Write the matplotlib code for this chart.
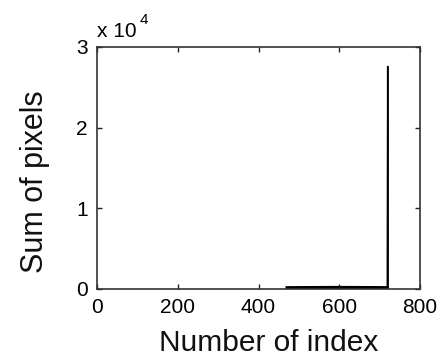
import matplotlib
matplotlib.use("Agg")
import matplotlib.pyplot as plt

# index positions and summed pixel counts
index = [0, 470, 471, 500, 550, 600, 650, 700, 719, 720, 721, 722]
pixel_sum = [0, 0, 150, 160, 170, 180, 170, 160, 150, 27600, 0, 0]

x_ticks = [0, 200, 400, 600, 800]
y_ticks = [0, 10000, 20000, 30000]
y_tick_labels = ["0", "1", "2", "3"]

plt.rcParams['font.family'] = ['Liberation Sans', 'DejaVu Sans']

W, H = 444, 358
fig = plt.figure(figsize=(W / 100, H / 100), dpi=100)
ax = fig.add_axes([97 / W, 1 - 289 / H, 323 / W, 242 / H])

ax.plot(index[1:-1], pixel_sum[1:-1], color='black', lw=1.1)
ax.plot(index[2:9], pixel_sum[2:9], color='black', lw=2.4)

ax.set_xlim(0, 800)
ax.set_ylim(0, 30000)
ax.set_xticks(x_ticks)
ax.set_xticklabels([str(t) for t in x_ticks])
ax.set_yticks(y_ticks)
ax.set_yticklabels(y_tick_labels)
ax.tick_params(direction='in', top=True, right=True, length=3.5, width=1,
               labelsize=15, pad=6.5, colors='#222222', labelcolor='black')
for s in ax.spines.values():
    s.set_linewidth(1.2)
    s.set_color('#333333')

fig.text(269 / W, (H - 351) / H, "Number of index", fontsize=21.5,
         ha='center', va='baseline', color='#111111')
fig.text(43 / W, 1 - 181.5 / H, "Sum of pixels", fontsize=22, rotation=90,
         rotation_mode='anchor', ha='center', va='baseline', color='#111111')
fig.text(97 / W, 1 - 37 / H, "x 10", fontsize=15, ha='left', va='baseline')
fig.text(140 / W, 1 - 24 / H, "4", fontsize=11, ha='left', va='baseline')

fig.savefig("out.png", dpi=100)
